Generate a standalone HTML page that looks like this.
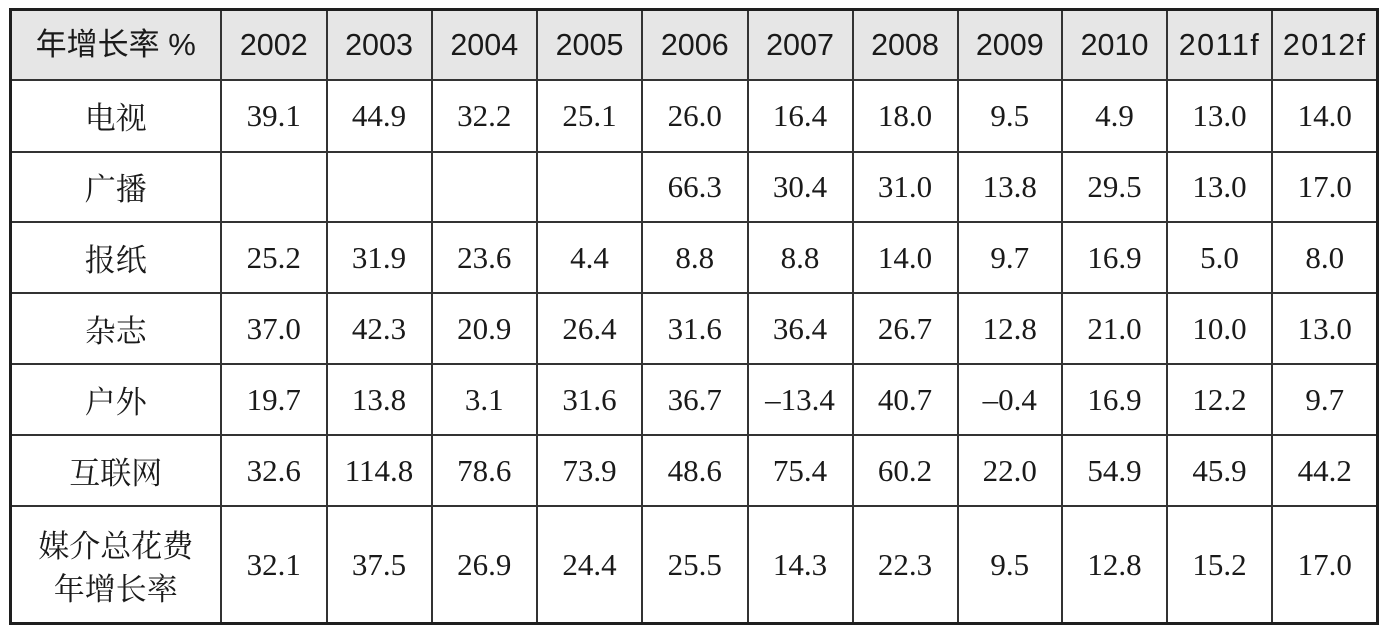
<!DOCTYPE html>
<html>
<head>
<meta charset="utf-8">
<style>
  html,body{margin:0;padding:0;background:#fff;}
  body{width:1389px;height:633px;position:relative;overflow:hidden;}
  .hbg{position:absolute;left:12px;top:11px;width:1364px;height:68px;background:#e6e6e6;}
  .ln{position:absolute;background:#333;}
  .ob{position:absolute;background:#1e1e1e;}
  .grid{position:absolute;left:10.5px;top:9.5px;display:grid;
    grid-template-columns:210.5px 105.5px 105px 105.5px 105px 105.5px 105px 105px 104.5px 105px 105px 105.5px;
    grid-template-rows:70.5px 71.5px 70.5px 71px 71px 71px 71px 117px;
    color:#1a1a1a;}
  .grid div{display:flex;align-items:center;justify-content:center;text-align:center;line-height:1;white-space:nowrap;}
  .h{font-family:"Liberation Sans","Noto Sans CJK SC",sans-serif;font-size:30.5px;}
  .hl{font-family:"Liberation Sans","Noto Sans CJK SC",sans-serif;font-size:31px;}
  .f{letter-spacing:1.5px;}
  .l{font-family:"Noto Serif CJK SC","Liberation Serif",serif;font-size:31px;}
  .n{font-family:"Liberation Serif","Noto Serif CJK SC",serif;font-size:31px;}
  .two{flex-direction:column;line-height:43px !important;}
</style>
</head>
<body>
<div class="hbg"></div>

<div class="ln" style="left:12px;width:1364px;top:79px;height:2px;"></div>
<div class="ln" style="left:12px;width:1364px;top:150.5px;height:2px;"></div>
<div class="ln" style="left:12px;width:1364px;top:221px;height:2px;"></div>
<div class="ln" style="left:12px;width:1364px;top:292px;height:2px;"></div>
<div class="ln" style="left:12px;width:1364px;top:363px;height:2px;"></div>
<div class="ln" style="left:12px;width:1364px;top:434px;height:2px;"></div>
<div class="ln" style="left:12px;width:1364px;top:505px;height:2px;"></div>

<div class="ln" style="top:11px;height:611px;left:220px;width:2px;"></div>
<div class="ln" style="top:11px;height:611px;left:325.5px;width:2px;"></div>
<div class="ln" style="top:11px;height:611px;left:430.5px;width:2px;"></div>
<div class="ln" style="top:11px;height:611px;left:536px;width:2px;"></div>
<div class="ln" style="top:11px;height:611px;left:641px;width:2px;"></div>
<div class="ln" style="top:11px;height:611px;left:746.5px;width:2px;"></div>
<div class="ln" style="top:11px;height:611px;left:851.5px;width:2px;"></div>
<div class="ln" style="top:11px;height:611px;left:956.5px;width:2px;"></div>
<div class="ln" style="top:11px;height:611px;left:1061px;width:2px;"></div>
<div class="ln" style="top:11px;height:611px;left:1166px;width:2px;"></div>
<div class="ln" style="top:11px;height:611px;left:1271px;width:2px;"></div>

<div class="ob" style="left:9px;top:8px;width:1370px;height:3px;"></div>
<div class="ob" style="left:9px;top:621.5px;width:1370px;height:3px;"></div>
<div class="ob" style="left:9px;top:8px;width:3px;height:616.5px;"></div>
<div class="ob" style="left:1376px;top:8px;width:3px;height:616.5px;"></div>

<div class="grid">
  <div class="hl">年增长率 %</div>
  <div class="h">2002</div><div class="h">2003</div><div class="h">2004</div><div class="h">2005</div>
  <div class="h">2006</div><div class="h">2007</div><div class="h">2008</div><div class="h">2009</div>
  <div class="h">2010</div><div class="h f">2011f</div><div class="h f">2012f</div>

  <div class="l">电视</div>
  <div class="n">39.1</div><div class="n">44.9</div><div class="n">32.2</div><div class="n">25.1</div>
  <div class="n">26.0</div><div class="n">16.4</div><div class="n">18.0</div><div class="n">9.5</div>
  <div class="n">4.9</div><div class="n">13.0</div><div class="n">14.0</div>

  <div class="l">广播</div>
  <div class="n"></div><div class="n"></div><div class="n"></div><div class="n"></div>
  <div class="n">66.3</div><div class="n">30.4</div><div class="n">31.0</div><div class="n">13.8</div>
  <div class="n">29.5</div><div class="n">13.0</div><div class="n">17.0</div>

  <div class="l">报纸</div>
  <div class="n">25.2</div><div class="n">31.9</div><div class="n">23.6</div><div class="n">4.4</div>
  <div class="n">8.8</div><div class="n">8.8</div><div class="n">14.0</div><div class="n">9.7</div>
  <div class="n">16.9</div><div class="n">5.0</div><div class="n">8.0</div>

  <div class="l">杂志</div>
  <div class="n">37.0</div><div class="n">42.3</div><div class="n">20.9</div><div class="n">26.4</div>
  <div class="n">31.6</div><div class="n">36.4</div><div class="n">26.7</div><div class="n">12.8</div>
  <div class="n">21.0</div><div class="n">10.0</div><div class="n">13.0</div>

  <div class="l">户外</div>
  <div class="n">19.7</div><div class="n">13.8</div><div class="n">3.1</div><div class="n">31.6</div>
  <div class="n">36.7</div><div class="n">–13.4</div><div class="n">40.7</div><div class="n">–0.4</div>
  <div class="n">16.9</div><div class="n">12.2</div><div class="n">9.7</div>

  <div class="l">互联网</div>
  <div class="n">32.6</div><div class="n">114.8</div><div class="n">78.6</div><div class="n">73.9</div>
  <div class="n">48.6</div><div class="n">75.4</div><div class="n">60.2</div><div class="n">22.0</div>
  <div class="n">54.9</div><div class="n">45.9</div><div class="n">44.2</div>

  <div class="l two"><span>媒介总花费</span><span>年增长率</span></div>
  <div class="n">32.1</div><div class="n">37.5</div><div class="n">26.9</div><div class="n">24.4</div>
  <div class="n">25.5</div><div class="n">14.3</div><div class="n">22.3</div><div class="n">9.5</div>
  <div class="n">12.8</div><div class="n">15.2</div><div class="n">17.0</div>
</div>
</body>
</html>
